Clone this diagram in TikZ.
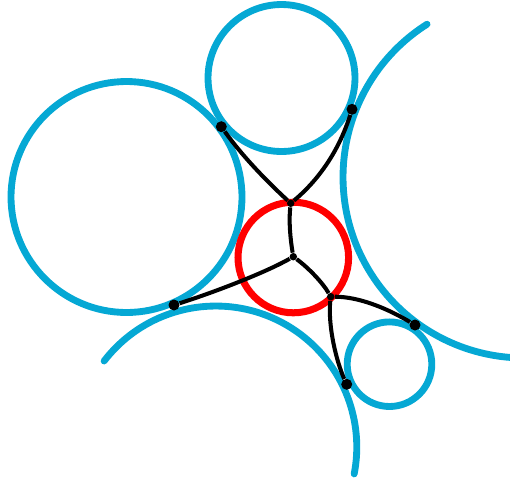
\documentclass[tikz,border=0pt]{standalone}
\usetikzlibrary{calc}
\definecolor{disc}{HTML}{05A8D4}
\definecolor{hub}{HTML}{FF0000}
\definecolor{ink}{HTML}{000000}
\tikzset{
  rim/.style={draw=disc, line width=3.9pt, line cap=round},
  hubline/.style={draw=hub, line width=4pt},
  edge/.style={draw=ink, line width=2.3pt},
  touch/.style={circle, fill=ink, inner sep=0pt, minimum size=0.22cm},
  joint/.style={circle, fill=ink, inner sep=0pt, minimum size=0.15cm},
}

\begin{document}
\begin{tikzpicture}[x=0.02cm, y=-0.02cm]
    \useasboundingbox (0,0) rectangle (510,481);
    \coordinate (left) at (126.5,197);
    \coordinate (top) at (281.5,78);
    \coordinate (small) at (389.5,364.2);
    \coordinate (right) at (524,177);
    \coordinate (low) at (215.8,447);
    \draw[rim] (left) circle[radius=2.31cm];
    \draw[rim] (top) circle[radius=1.47cm];
    \draw[rim] (small) circle[radius=0.846cm];
    \draw[rim] (right) ++(122.4:3.62cm) arc[start angle=122.4, end angle=266, radius=3.62cm];
    \draw[rim] (low) ++(142.4:2.82cm) arc[start angle=142.4, end angle=-11, radius=2.82cm];
    \draw[hubline] (293.3,257.5) circle[radius=1.106cm];
    \node[touch] (t1) at (221.3,126.7) {};
    \node[touch] (t2) at (352,109.3) {};
    \node[touch] (t3) at (174,305) {};
    \node[touch] (t4) at (415,325) {};
    \node[touch] (t5) at (346.7,384.3) {};
    \node[joint] (j1) at (290.7,203.3) {};
    \node[joint] (j0) at (293.3,256.7) {};
    \node[joint] (j2) at (330.7,296.7) {};
    \draw[edge] (t1) .. controls +(20,28) and +(-26,-24) .. (j1);
    \draw[edge] (t2) .. controls +(-12,38) and +(31,-26) .. (j1);
    \draw[edge] (j1) .. controls +(-2,18) and +(-3,-18) .. (j0);
    \draw[edge] (j0) .. controls +(-30,17) and +(35,-11) .. (t3);
    \draw[edge] (j0) .. controls +(15,11) and +(-8,-14) .. (j2);
    \draw[edge] (j2) .. controls +(30,0) and +(-25,-15) .. (t4);
    \draw[edge] (j2) .. controls +(-3,30) and +(-10,-22) .. (t5);
  \end{tikzpicture}
\end{document}
